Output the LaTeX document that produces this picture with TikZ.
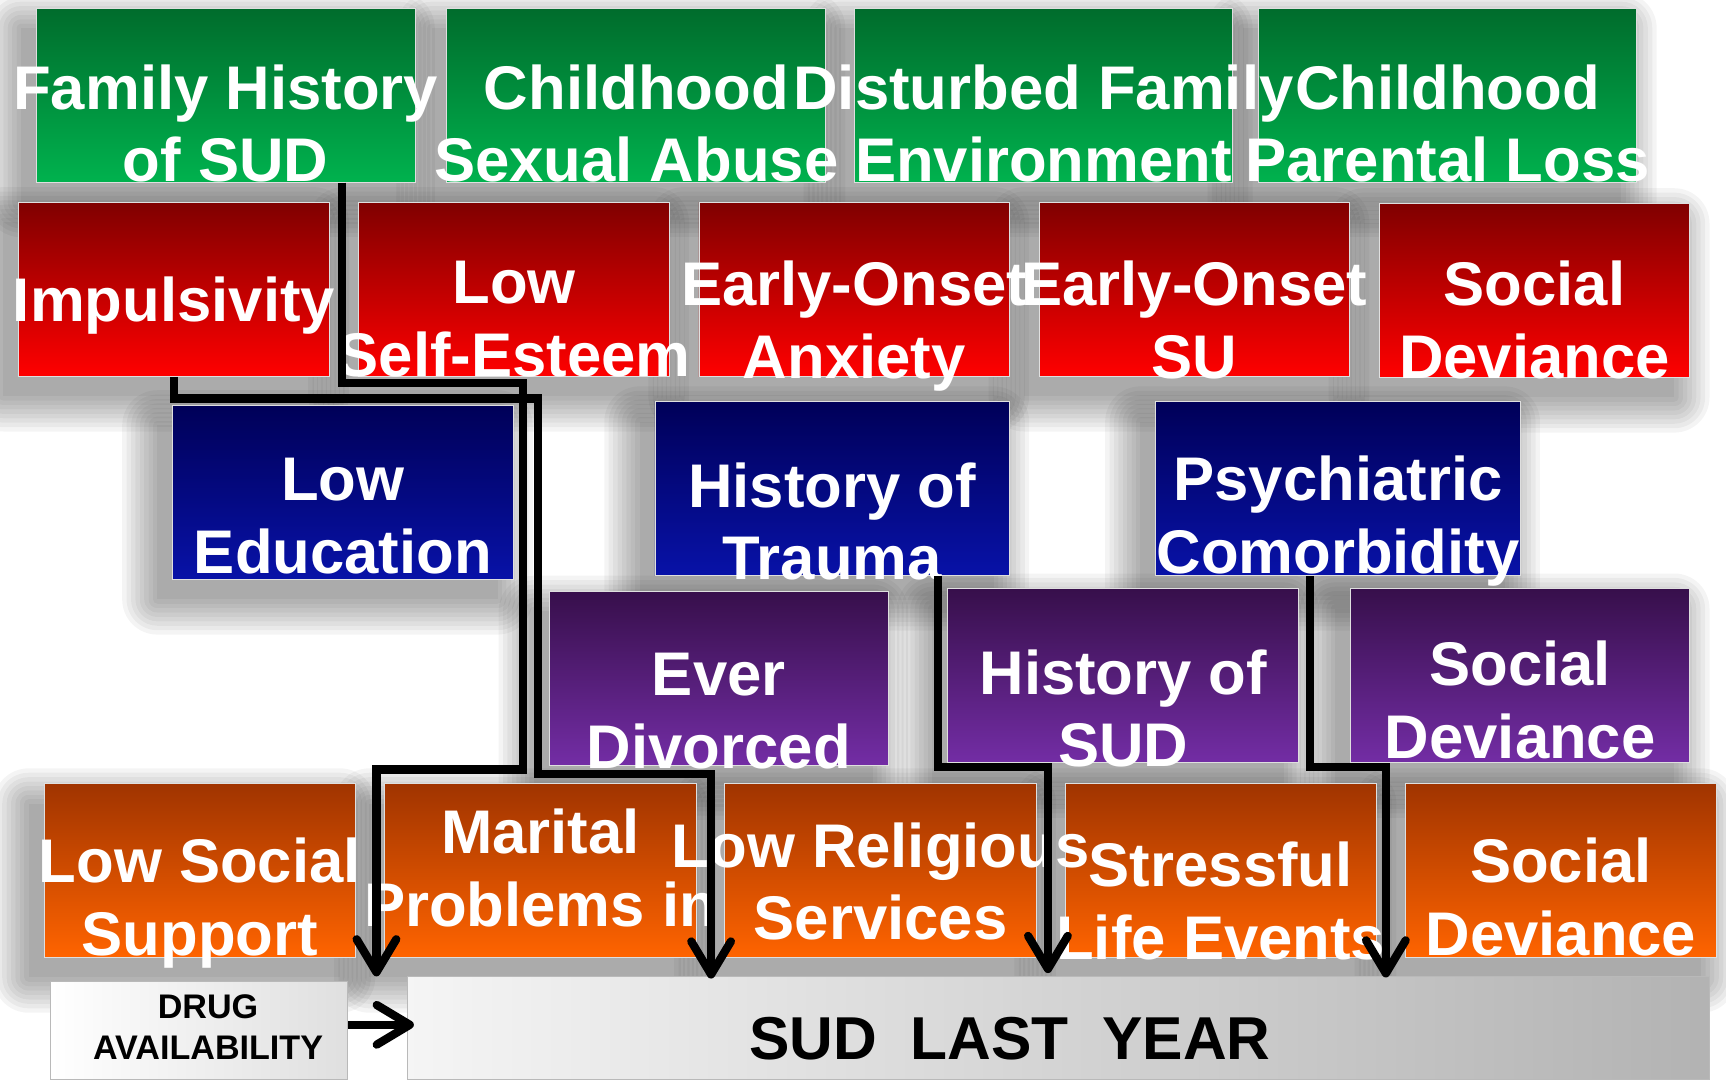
\documentclass[tikz,border=0pt]{standalone}
\usepackage{fontspec}
\setmainfont{Liberation Sans}
\usetikzlibrary{arrows.meta}

\definecolor{greentop}{RGB}{0,108,44}
\definecolor{greenbot}{RGB}{0,178,78}
\definecolor{redtop}{RGB}{128,0,0}
\definecolor{redbot}{RGB}{255,0,0}
\definecolor{bluetop}{RGB}{0,0,88}
\definecolor{bluebot}{RGB}{8,18,168}
\definecolor{purpletop}{RGB}{55,15,75}
\definecolor{purplebot}{RGB}{115,45,165}
\definecolor{orangetop}{RGB}{160,52,0}
\definecolor{orangebot}{RGB}{255,100,0}

\tikzset{
	factor/.style={rectangle, inner sep=0pt, minimum height=158pt, draw=white!75!gray, line width=0.8pt},
	factortext/.style={anchor=north, inner sep=0pt, align=center, text=white, font=\fontsize{56}{66}\selectfont\bfseries},
	link/.style={line width=7.5pt, -{Straight Barb[length=30pt, width=36pt, round]}}
}

% name / x / y / width / colour / top of text / text
\def\factors{%
fhsud/205/86.5/344/green/58.5/{Family History\\of SUD},%
csa/578/86.5/344/green/58.5/{Childhood\\Sexual Abuse},%
dfe/948/86.5/344/green/58.5/{Disturbed Family\\Environment},%
cpl/1315/86.5/344/green/58.5/{Childhood\\Parental Loss},%
imp/158/263/282/red/251/{Impulsivity},%
lse/467/263/282/red/237/{Low\\Self-Esteem},%
eoa/776/263/282/red/237/{Early-Onset\\Anxiety},%
eosu/1085/263/282/red/237/{Early-Onset\\SU},%
sdr/1394/264/282/red/237/{Social\\Deviance},%
lowedu/311.5/447.5/309/blue/416/{Low\\Education},%
hot/756/444/322/blue/420/{History of\\Trauma},%
psy/1215.5/444/331/blue/414/{Psychiatric\\Comorbidity},%
evdiv/653/616/308/purple/593/{Ever\\Divorced},%
hsud/1020.5/614/319/purple/590/{History of\\SUD},%
sdp/1381/614/308/purple/582/{Social\\Deviance},%
lss/181.5/791/283/orange/761/{Low Social\\Support},%
mpi/491/791/283/orange/735/{Marital\\Problems in},%
lrs/800/791/283/orange/747/{Low Religious\\Services},%
sle/1109/791/283/orange/765/{Stressful\\Life Events},%
sdo/1418/791/283/orange/761/{Social\\Deviance}}

\begin{document}
\begin{tikzpicture}[x=1pt, y=-1pt]
	\useasboundingbox (0,0) rectangle (1568,981);

	% soft shadows behind the factor boxes
	\foreach \nm/\x/\y/\w/\col/\t/\txt in \factors
	{
		\foreach \s in {0,4,...,32}
			\fill [black, opacity=0.045, rounded corners=\s pt] ({\x-\w/2-14-\s},{\y-61-\s}) rectangle ({\x+\w/2-14+\s},{\y+97+\s});
	}

	% factor boxes
	\foreach \nm/\x/\y/\w/\col/\t/\txt in \factors
	{
		\node [factor, minimum width=\w pt, top color=\col top, bottom color=\col bot] at (\x,\y) (\nm){};
	}

	% factor labels (they run over the box edges)
	\foreach \nm/\x/\y/\w/\col/\t/\txt in \factors
	{
		\node [factortext] at (\x,\t) {\txt};
	}

	% outcome
	\node [draw=gray!55, line width=1pt, left color=white, right color=gray!25, minimum width=270pt, minimum height=89pt, inner sep=0pt] at (181,936.5) (drug){};
	\node [anchor=north, inner sep=0pt, align=center, font=\fontsize{31}{38}\selectfont\bfseries] at (189,903) {DRUG\\AVAILABILITY};
	\node [draw=gray!55, line width=1pt, left color=gray!8, right color=gray!60, minimum width=1183pt, minimum height=94pt, inner sep=0pt] at (961.5,934) (sud){};
	\node [anchor=north, inner sep=0pt, font=\fontsize{55}{66}\selectfont\bfseries] at (917.5,924) {SUD\ \ LAST\ \ YEAR};

	% arrows into the outcome
	\coordinate (tip1) at (342,887);
	\coordinate (tip2) at (646,889);
	\coordinate (tip3) at (952,884);
	\coordinate (tip4) at (1259,888);
	\coordinate (tip5) at (376,931);
	\draw [link] ([xshift=106pt]fhsud.south) |- (475,348) |- (342,699) -- (tip1);
	\draw [link] (imp.south) |- (489,362) |- (646,703) -- (tip2);
	\draw [link] ([xshift=96pt]hot.south) |- (952,697) -- (tip3);
	\draw [link] ([xshift=-25.5pt]psy.south) |- (1259,697) -- (tip4);
	\draw [link] (drug.east |- tip5) -- (tip5);

\end{tikzpicture}
\end{document}
